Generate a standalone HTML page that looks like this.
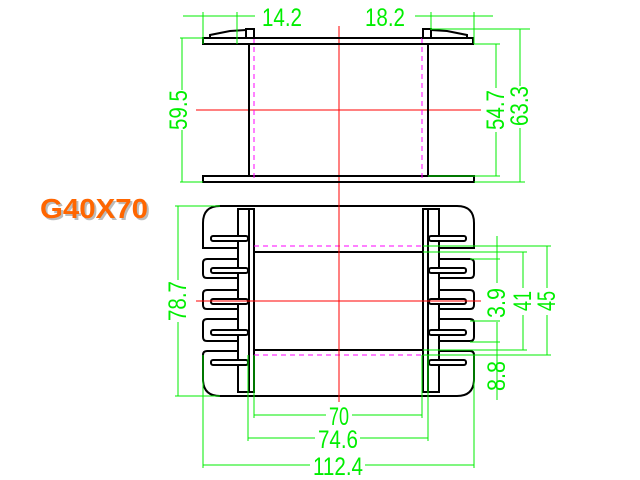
<!DOCTYPE html>
<html><head><meta charset="utf-8"><style>
html,body{margin:0;padding:0;background:#fff;}
svg{display:block;}
.g{stroke:#00ee00;stroke-width:1;fill:none}
.k{stroke:#000;stroke-width:2;fill:none}
.t{fill:#00ee00;font-family:"Liberation Sans",sans-serif;font-size:25px}
</style></head><body>
<svg width="640" height="480" viewBox="0 0 640 480" xmlns="http://www.w3.org/2000/svg">
<!-- TOP VIEW -->
<line x1="339" y1="26" x2="339" y2="200" stroke="#ff0000" stroke-width="1"/>
<line x1="196" y1="110" x2="481" y2="110" stroke="#ff0000" stroke-width="1"/>
<rect x="203" y="38" width="270" height="6" class="k" fill="#fff"/>
<rect x="203" y="176" width="271" height="6" class="k" fill="#fff"/>
<line x1="249" y1="44" x2="249" y2="176" class="k"/>
<line x1="428" y1="44" x2="428" y2="176" class="k"/>
<line x1="254" y1="38" x2="254" y2="182" stroke="#ff00ff" stroke-dasharray="5,4"/>
<line x1="422" y1="38" x2="422" y2="182" stroke="#ff00ff" stroke-dasharray="5,4"/>
<rect x="246" y="29" width="8" height="9" class="k"/>
<rect x="423" y="29" width="8" height="9" class="k"/>
<path d="M210 38 L210 35 L230 31 L246 30" class="k"/>
<path d="M467 38 L467 35 L447 31 L431 30" class="k"/>
<!-- top dims -->
<line x1="183" y1="16" x2="255" y2="16" class="g"/>
<line x1="415" y1="16" x2="493" y2="16" class="g"/>
<line x1="203" y1="12" x2="203" y2="44" class="g"/>
<line x1="237" y1="12" x2="237" y2="44" class="g"/>
<line x1="431" y1="12" x2="431" y2="30" class="g"/>
<line x1="474" y1="12" x2="474" y2="44" class="g"/>
<text x="262" y="26" class="t" textLength="40" lengthAdjust="spacingAndGlyphs">14.2</text>
<text x="365" y="26" class="t" textLength="40" lengthAdjust="spacingAndGlyphs">18.2</text>
<line x1="182" y1="38" x2="182" y2="90" class="g"/>
<line x1="182" y1="130" x2="182" y2="182" class="g"/>
<line x1="180" y1="38" x2="203" y2="38" class="g"/>
<line x1="180" y1="182" x2="203" y2="182" class="g"/>
<text transform="translate(187,110) rotate(-90)" text-anchor="middle" class="t" textLength="40" lengthAdjust="spacingAndGlyphs">59.5</text>
<line x1="496" y1="44" x2="496" y2="88" class="g"/>
<line x1="496" y1="132" x2="496" y2="176" class="g"/>
<line x1="520" y1="29" x2="520" y2="86" class="g"/>
<line x1="520" y1="128" x2="520" y2="182" class="g"/>
<line x1="431" y1="29" x2="530" y2="29" class="g"/>
<line x1="474" y1="44" x2="500" y2="44" class="g"/>
<line x1="428" y1="176" x2="500" y2="176" class="g"/>
<line x1="474" y1="182" x2="525" y2="182" class="g"/>
<text transform="translate(504,110) rotate(-90)" text-anchor="middle" class="t" textLength="40" lengthAdjust="spacingAndGlyphs">54.7</text>
<text transform="translate(528,106) rotate(-90)" text-anchor="middle" class="t" textLength="40" lengthAdjust="spacingAndGlyphs">63.3</text>

<!-- LABEL -->
<text x="42" y="220" fill="#bbb" font-family="Liberation Sans,sans-serif" font-weight="bold" font-size="28" textLength="108" lengthAdjust="spacingAndGlyphs">G40X70</text>
<text x="40" y="218" fill="#ff6600" font-family="Liberation Sans,sans-serif" font-weight="bold" font-size="28" textLength="108" lengthAdjust="spacingAndGlyphs">G40X70</text>

<!-- BOTTOM VIEW -->
<g class="k">
<path d="M238 206 L220 206 Q203 206 203 223 L203 248 L238 248"/>
<path d="M238 259 L207 259 Q203 259 203 263 L203 274 Q203 278 207 278 L238 278"/>
<path d="M238 290 L207 290 Q203 290 203 294 L203 305 Q203 309 207 309 L238 309"/>
<path d="M238 319 L207 319 Q203 319 203 323 L203 337 Q203 341 207 341 L238 341"/>
<path d="M238 351 L207 351 Q203 351 203 355 L203 379 Q203 396 220 396 L457 396 Q474 396 474 379 L474 355 Q474 351 470 351 L439 351"/>
<path d="M220 206 L457 206 Q474 206 474 223 L474 248 L439 248"/>
<path d="M439 259 L470 259 Q474 259 474 263 L474 274 Q474 278 470 278 L439 278"/>
<path d="M439 290 L470 290 Q474 290 474 294 L474 305 Q474 309 470 309 L439 309"/>
<path d="M439 319 L470 319 Q474 319 474 323 L474 337 Q474 341 470 341 L439 341"/>
<rect x="254" y="252" width="169" height="98"/>
<rect x="238" y="209" width="16" height="183" fill="#fff"/>
<line x1="249" y1="209" x2="249" y2="392"/>
<rect x="423" y="209" width="16" height="183" fill="#fff"/>
<line x1="428" y1="209" x2="428" y2="392"/>
</g>
<g stroke="#000" stroke-width="2" fill="#fff">
<rect x="211" y="236" width="37" height="5" rx="2"/>
<rect x="211" y="268" width="37" height="5" rx="2"/>
<rect x="211" y="299" width="37" height="5" rx="2"/>
<rect x="211" y="330" width="37" height="5" rx="2"/>
<rect x="211" y="360" width="37" height="5" rx="2"/>
<rect x="429" y="236" width="37" height="5" rx="2"/>
<rect x="429" y="268" width="37" height="5" rx="2"/>
<rect x="429" y="299" width="37" height="5" rx="2"/>
<rect x="429" y="330" width="37" height="5" rx="2"/>
<rect x="429" y="360" width="37" height="5" rx="2"/>
</g>
<line x1="254" y1="246" x2="423" y2="246" stroke="#ff00ff" stroke-dasharray="5,4"/>
<line x1="254" y1="355" x2="423" y2="355" stroke="#ff00ff" stroke-dasharray="5,4"/>
<line x1="339" y1="198" x2="339" y2="402" stroke="#ff0000"/>
<line x1="196" y1="301" x2="481" y2="301" stroke="#ff0000"/>
<!-- bottom dims -->
<line x1="178" y1="206" x2="178" y2="280" class="g"/>
<line x1="178" y1="322" x2="178" y2="396" class="g"/>
<line x1="175" y1="206" x2="220" y2="206" class="g"/>
<line x1="175" y1="396" x2="220" y2="396" class="g"/>
<text transform="translate(186,301) rotate(-90)" text-anchor="middle" class="t" textLength="40" lengthAdjust="spacingAndGlyphs">78.7</text>
<line x1="497" y1="236" x2="497" y2="283" class="g"/>
<line x1="497" y1="322" x2="497" y2="400" class="g"/>
<line x1="523" y1="252" x2="523" y2="288" class="g"/>
<line x1="523" y1="315" x2="523" y2="350" class="g"/>
<line x1="547" y1="246" x2="547" y2="288" class="g"/>
<line x1="547" y1="315" x2="547" y2="355" class="g"/>
<line x1="423" y1="246" x2="551" y2="246" class="g"/>
<line x1="423" y1="252" x2="527" y2="252" class="g"/>
<line x1="470" y1="259" x2="500" y2="259" class="g"/>
<line x1="470" y1="321" x2="500" y2="321" class="g"/>
<line x1="470" y1="342" x2="500" y2="342" class="g"/>
<line x1="423" y1="350" x2="527" y2="350" class="g"/>
<line x1="423" y1="355" x2="551" y2="355" class="g"/>
<text transform="translate(505,303) rotate(-90)" text-anchor="middle" class="t" textLength="30" lengthAdjust="spacingAndGlyphs">3.9</text>
<text transform="translate(531,301) rotate(-90)" text-anchor="middle" class="t" textLength="20" lengthAdjust="spacingAndGlyphs">41</text>
<text transform="translate(555,301) rotate(-90)" text-anchor="middle" class="t" textLength="20" lengthAdjust="spacingAndGlyphs">45</text>
<text transform="translate(505,376) rotate(-90)" text-anchor="middle" class="t" textLength="30" lengthAdjust="spacingAndGlyphs">8.8</text>
<line x1="254" y1="355" x2="254" y2="418" class="g"/>
<line x1="422" y1="355" x2="422" y2="418" class="g"/>
<line x1="248" y1="355" x2="248" y2="441" class="g"/>
<line x1="428" y1="355" x2="428" y2="441" class="g"/>
<line x1="203" y1="355" x2="203" y2="468" class="g"/>
<line x1="474" y1="355" x2="474" y2="468" class="g"/>
<line x1="254" y1="415" x2="326" y2="415" class="g"/>
<line x1="352" y1="415" x2="422" y2="415" class="g"/>
<line x1="248" y1="438" x2="315" y2="438" class="g"/>
<line x1="360" y1="438" x2="428" y2="438" class="g"/>
<line x1="203" y1="465" x2="310" y2="465" class="g"/>
<line x1="365" y1="465" x2="474" y2="465" class="g"/>
<text x="339" y="425" text-anchor="middle" class="t" textLength="20" lengthAdjust="spacingAndGlyphs">70</text>
<text x="338" y="448" text-anchor="middle" class="t" textLength="40" lengthAdjust="spacingAndGlyphs">74.6</text>
<text x="338" y="475" text-anchor="middle" class="t" textLength="50" lengthAdjust="spacingAndGlyphs">112.4</text>
</svg>
</body></html>
